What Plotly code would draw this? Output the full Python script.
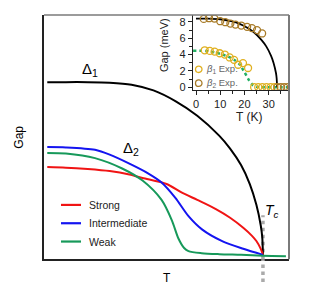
import plotly.graph_objects as go

# ---------------- data (main, normalised T/Tc and gap) ----------------
d1_T = [0.015, 0.1, 0.2, 0.3, 0.4, 0.5, 0.6, 0.7, 0.8, 0.85, 0.9, 0.94, 0.97, 0.99, 0.997, 1.0]
d1_G = [1.0, 1.0, 1.0, 0.997, 0.985, 0.952, 0.89, 0.805, 0.69, 0.615, 0.52, 0.41, 0.29, 0.17, 0.1, 0.0]

strong_T = [0.015, 0.1, 0.2, 0.3, 0.39, 0.45, 0.56, 0.63, 0.7, 0.785, 0.85, 0.91, 0.95, 0.97, 0.99, 1.0]
strong_G = [0.508, 0.505, 0.497, 0.485, 0.465, 0.445, 0.41, 0.36, 0.318, 0.265, 0.215, 0.157, 0.11, 0.08, 0.035, 0.0]

inter_T = [0.015, 0.1, 0.233, 0.3, 0.39, 0.475, 0.537, 0.6, 0.66, 0.723, 0.816, 0.91, 1.0]
inter_G = [0.624, 0.622, 0.608, 0.58, 0.528, 0.472, 0.419, 0.33, 0.224, 0.146, 0.078, 0.035, 0.0]

weak_T = [0.015, 0.1, 0.233, 0.357, 0.45, 0.537, 0.584, 0.614, 0.64, 0.66, 0.72, 0.8, 0.9, 1.0, 1.105]
weak_G = [0.59, 0.587, 0.56, 0.5, 0.43, 0.318, 0.2, 0.095, 0.04, 0.022, 0.01, 0.004, 0.0, -0.005, -0.008]

Tc = 1.0
Tc_mark_top = 0.23

# ---------------- data (inset, T in K, gap in meV) ----------------
bcs_T = [0, 5, 10, 15, 18, 21, 24, 27, 29, 31, 32, 33, 33.3, 33.5]
bcs_G = [8.4, 8.4, 8.32, 8.05, 7.75, 7.3, 6.7, 5.8, 5.0, 3.84, 3.0, 1.77, 1.1, 0.0]

fit2_T = [-1.2, 2, 5, 8, 11, 14, 16, 18, 20, 22, 23.5, 25, 27, 38.4]
fit2_G = [4.45, 4.45, 4.4, 4.25, 4.0, 3.65, 3.3, 2.8, 1.85, 0.8, 0.25, 0.05, 0.0, 0.0]

b1_T = [3.6, 5.7, 7.7, 9.8, 11.9, 13.9, 15.7, 17.4, 19.4, 21.5, 24.0, 25.7, 27.4, 29.1, 30.8, 32.4]
b1_G = [4.52, 4.44, 4.36, 4.16, 4.0, 3.64, 3.35, 2.75, 2.95, 2.35, 0, 0, 0, 0, 0, 0]

b2_T = [3.2, 5.4, 7.6, 10.0, 12.1, 14.2, 16.3, 18.7, 21.1, 23.1, 25.2, 27.3, 33.6, 35.0, 36.4, 37.8]
b2_G = [8.36, 8.45, 8.4, 8.08, 7.96, 7.79, 7.67, 7.55, 7.39, 7.23, 6.99, 6.58, 0, 0, 0, 0]

legend_main = ["Strong", "Intermediate", "Weak"]
legend_inset = ["<i>β</i><sub>1</sub> Exp.", "<i>β</i><sub>2</sub> Exp."]

# ---------------- styling / layout ----------------
W, H = 317, 288
FONT = "Arial, Liberation Sans, sans-serif"
RED, BLUE, GREEN = "#f01414", "#1414f0", "#17995a"
GOLD1, GOLD2 = "#e0b020", "#a87b28"
FITGREEN = "#22b062"
TCGREY = "#aaaaaa"


def px(x):
    return x / W


def py(y):
    return 1 - y / H


main_xr = [0.0, 1.119]
main_yr = [-0.026, 1.389]
main_xd = [px(36), px(281)]
main_yd = [py(254), py(7)]

ins_xr = [-1.24, 38.4]
ins_yr = [-0.36, 8.85]
ins_xd = [px(185), px(281)]
ins_yd = [py(83), py(7)]

fig = go.Figure()

# Tc marker (inside plot part), drawn first so curves lie over it
fig.add_trace(go.Scatter(x=[Tc, Tc], y=[main_yr[0], Tc_mark_top], mode="lines",
                         line=dict(color=TCGREY, width=3.5, dash="dot"), showlegend=False,
                         hoverinfo="skip", xaxis="x", yaxis="y"))

fig.add_trace(go.Scatter(x=d1_T, y=d1_G, mode="lines", line=dict(color="black", width=2, shape="spline", smoothing=0.6),
                         showlegend=False, xaxis="x", yaxis="y", name="Δ1"))
for T, G, c, n in [(strong_T, strong_G, RED, legend_main[0]),
                   (inter_T, inter_G, BLUE, legend_main[1]),
                   (weak_T, weak_G, GREEN, legend_main[2])]:
    fig.add_trace(go.Scatter(x=T, y=G, mode="lines", line=dict(color=c, width=2, shape="spline", smoothing=0.8),
                             showlegend=False, name=n, xaxis="x", yaxis="y"))

# inset traces
fig.add_trace(go.Scatter(x=fit2_T, y=fit2_G, mode="lines", line=dict(color=FITGREEN, width=2.5, dash="dot", shape="spline", smoothing=0.6),
                         showlegend=False, xaxis="x2", yaxis="y2"))
fig.add_trace(go.Scatter(x=bcs_T, y=bcs_G, mode="lines", line=dict(color="black", width=1.8, shape="spline", smoothing=0.6),
                         showlegend=False, xaxis="x2", yaxis="y2"))
fig.add_trace(go.Scatter(x=b1_T, y=b1_G, mode="markers", name=legend_inset[0],
                         marker=dict(symbol="circle-open", size=7, color=GOLD1, line=dict(width=1.3)),
                         showlegend=False, xaxis="x2", yaxis="y2", cliponaxis=True))
fig.add_trace(go.Scatter(x=b2_T, y=b2_G, mode="markers", name=legend_inset[1],
                         marker=dict(symbol="circle-open", size=7, color=GOLD2, line=dict(width=1.3)),
                         showlegend=False, xaxis="x2", yaxis="y2", cliponaxis=True))

shapes = []
annotations = []

# main frame top/right (grey) lines
shapes.append(dict(type="line", xref="paper", yref="paper", x0=main_xd[0], x1=main_xd[1], y0=main_yd[1], y1=main_yd[1],
                   line=dict(color="#7a7a7a", width=1.5)))
shapes.append(dict(type="line", xref="paper", yref="paper", x0=main_xd[1], x1=main_xd[1], y0=main_yd[0], y1=main_yd[1],
                   line=dict(color="#7a7a7a", width=2)))

# Tc marker line part below the axis
tc_x = main_xd[0] + (Tc - main_xr[0]) / (main_xr[1] - main_xr[0]) * (main_xd[1] - main_xd[0])
shapes.append(dict(type="line", xref="paper", yref="paper", x0=tc_x, x1=tc_x, y0=py(277), y1=main_yd[0],
                   line=dict(color=TCGREY, width=3.5, dash="dot")))

# main legend (manual)
rows = [199, 217.5, 236]
for name, c, yy in zip(legend_main, [RED, BLUE, GREEN], rows):
    shapes.append(dict(type="line", xref="paper", yref="paper", x0=px(53), x1=px(73), y0=py(yy), y1=py(yy),
                       line=dict(color=c, width=2.2)))
    annotations.append(dict(x=px(79), y=py(yy), xref="paper", yref="paper", text=name, showarrow=False,
                            xanchor="left", yanchor="middle", font=dict(family=FONT, size=10.5, color="#222")))

# inset legend (manual)
for name, c, yy in zip(legend_inset, [GOLD1, GOLD2], [62, 76]):
    shapes.append(dict(type="circle", xref="paper", yref="paper", x0=px(187.5), x1=px(194),
                       y0=py(yy + 3.2), y1=py(yy - 3.3), line=dict(color=c, width=1.3)))
    annotations.append(dict(x=px(196), y=py(yy), xref="paper", yref="paper", text=name, showarrow=False,
                            xanchor="left", yanchor="middle", font=dict(family=FONT, size=9.5, color="#666")))

C = dict(xanchor="center", yanchor="middle", showarrow=False)
# curve labels and axis titles
annotations += [
    dict(x=0.21, y=1.074, xref="x", yref="y", text="Δ<sub>1</sub>", **C,
         font=dict(family=FONT, size=15, color="black")),
    dict(x=0.397, y=0.616, xref="x", yref="y", text="Δ<sub>2</sub>", **C,
         font=dict(family=FONT, size=15, color="black")),
    dict(x=1.04, y=0.255, xref="x", yref="y", text="<i>T<sub>c</sub></i>", **C,
         font=dict(family=FONT, size=14, color="black")),
    dict(x=px(11), y=py(131), xref="paper", yref="paper", text="Gap", textangle=-90, **C,
         font=dict(family=FONT, size=12, color="black")),
    dict(x=px(158.5), y=py(273), xref="paper", yref="paper", text="T", **C,
         font=dict(family=FONT, size=12, color="black")),
    dict(x=px(155.5), y=py(38), xref="paper", yref="paper", text="Gap (meV)", textangle=-90, **C,
         font=dict(family=FONT, size=11, color="#222")),
    dict(x=px(241), y=py(110), xref="paper", yref="paper", text="T (K)", **C,
         font=dict(family=FONT, size=12, color="#222")),
]

fig.update_layout(
    width=W, height=H, margin=dict(l=0, r=0, t=0, b=0),
    paper_bgcolor="white", plot_bgcolor="rgba(0,0,0,0)",
    showlegend=False,
    shapes=shapes, annotations=annotations,
    xaxis=dict(domain=main_xd, range=main_xr, showgrid=False, zeroline=False, showticklabels=False, ticks="",
               showline=True, linecolor="#222", linewidth=1.5, fixedrange=True),
    yaxis=dict(domain=main_yd, range=main_yr, showgrid=False, zeroline=False, showticklabels=False, ticks="",
               showline=True, linecolor="#222", linewidth=1.5, fixedrange=True),
    xaxis2=dict(domain=ins_xd, range=ins_xr, anchor="y2", showgrid=False, zeroline=False,
                tickmode="array", tickvals=[0, 10, 20, 30], ticks="outside", ticklen=4, tickcolor="#222",
                minor=dict(tickvals=[5, 15, 25, 35], ticks="outside", ticklen=2.5, tickcolor="#222"),
                tickfont=dict(family=FONT, size=11, color="#222"),
                showline=True, linecolor="#222", linewidth=1.3),
    yaxis2=dict(domain=ins_yd, range=ins_yr, anchor="x2", showgrid=False, zeroline=False,
                tickmode="array", tickvals=[0, 2, 4, 6, 8], ticks="outside", ticklen=4, tickcolor="#222",
                minor=dict(tickvals=[1, 3, 5, 7], ticks="outside", ticklen=2.5, tickcolor="#222"),
                tickfont=dict(family=FONT, size=11, color="#222"),
                showline=True, linecolor="#222", linewidth=1.3),
)

fig.write_html("out.html")
